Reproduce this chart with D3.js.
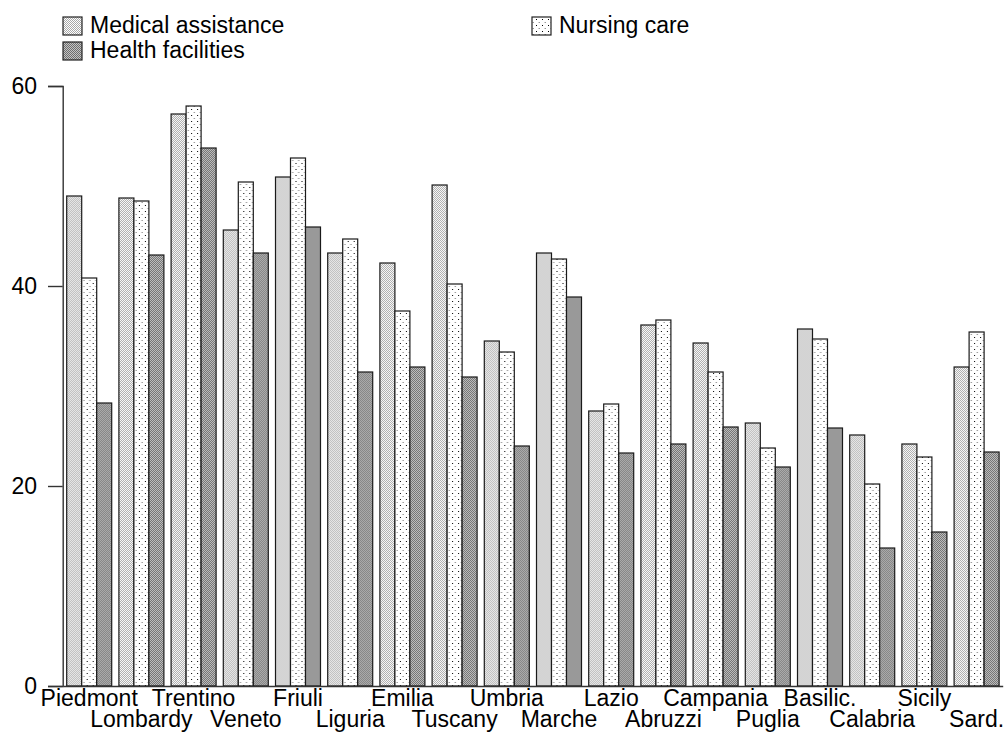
<!DOCTYPE html>
<html>
<head>
<meta charset="utf-8">
<script src="https://cdn.jsdelivr.net/npm/d3@7"></script>
<style>
  html, body { margin: 0; padding: 0; background: #fff; }
  svg { display: block; }
  text { font-family: "Liberation Sans", Arial, Helvetica, sans-serif; fill: #000; }
</style>
</head>
<body>
<svg id="chart" width="1006" height="735"></svg>
<script>
const regions = ["Piedmont","Lombardy","Trentino","Veneto","Friuli","Liguria","Emilia","Tuscany","Umbria","Marche","Lazio","Abruzzi","Campania","Puglia","Basilic.","Calabria","Sicily","Sard."];
const seriesNames = ["Medical assistance","Nursing care","Health facilities"];
const medical  = [49.0, 48.8, 57.2, 45.6, 50.9, 43.3, 42.3, 50.1, 34.5, 43.3, 27.5, 36.1, 34.3, 26.3, 35.7, 25.1, 24.2, 31.9];
const nursing  = [40.8, 48.5, 58.0, 50.4, 52.8, 44.7, 37.5, 40.2, 33.4, 42.7, 28.2, 36.6, 31.4, 23.8, 34.7, 20.2, 22.9, 35.4];
const health   = [28.3, 43.1, 53.8, 43.3, 45.9, 31.4, 31.9, 30.9, 24.0, 38.9, 23.3, 24.2, 25.9, 21.9, 25.8, 13.8, 15.4, 23.4];
const yTicks = [0, 20, 40, 60];

const seriesValues = [medical, nursing, health];
const patternIds = ["pMed", "pNurse", "pHealth"];
const FONT = 23;

const svg = d3.select("#chart");
svg.append("rect").attr("width", 1006).attr("height", 735).attr("fill", "#fff");

// patterns
const defs = svg.append("defs");
function makePattern(id, size, bg, dots) {
  const p = defs.append("pattern").attr("id", id).attr("patternUnits", "userSpaceOnUse")
    .attr("width", size).attr("height", size);
  p.append("rect").attr("width", size).attr("height", size).attr("fill", bg).attr("shape-rendering", "crispEdges");
  dots.forEach(d => p.append("rect").attr("x", d[0]).attr("y", d[1]).attr("width", d[2] || 1).attr("height", 1)
    .attr("fill", d[3]).attr("shape-rendering", "crispEdges"));
}
makePattern("pMed", 2, "#ffffff", [[0,0,1,"#a8a8a8"],[1,1,1,"#a8a8a8"]]);
makePattern("pNurse", 6, "#ffffff", [[2,1,1,"#000000"],[5,4,1,"#9a9a9a"],[4,4,1,"#d0d0d0"]]);
makePattern("pHealth", 2, "#c4c4c4", [[0,0,1,"#6e6e6e"],[1,1,1,"#6e6e6e"]]);

const y = d3.scaleLinear().domain([0, 60]).range([686, 86]);
const x0 = d3.scaleBand().domain(regions).range([63.1, 63.1 + 18 * 52.2]).paddingInner(0.138).paddingOuter(0.069);
const x1 = d3.scaleBand().domain(seriesNames).range([0, x0.bandwidth()]);

// bars
const groups = svg.append("g").selectAll("g").data(regions).join("g")
  .attr("transform", d => `translate(${x0(d)},0)`);
groups.selectAll("rect")
  .data((d, i) => seriesNames.map((s, k) => ({ s, k, v: seriesValues[k][i] })))
  .join("rect")
  .attr("x", d => x1(d.s))
  .attr("y", d => y(d.v))
  .attr("width", x1.bandwidth())
  .attr("height", d => y(0) - y(d.v))
  .attr("fill", d => `url(#${patternIds[d.k]})`)
  .attr("stroke", "#1a1a1a")
  .attr("stroke-width", 1.2);

// y axis
const yAxis = svg.append("g").attr("transform", "translate(62.7,0)")
  .call(d3.axisLeft(y).tickValues(yTicks).tickSize(14.7).tickPadding(11).tickFormat(d3.format("d")));
yAxis.select(".domain").attr("stroke", "#333").attr("stroke-width", 1.4);
yAxis.selectAll(".tick line").attr("stroke", "#333").attr("stroke-width", 1.4);
yAxis.selectAll("text").attr("font-size", FONT).attr("font-family", "'Liberation Sans', Arial, sans-serif").attr("fill", "#000");

// x axis
const xAxis = svg.append("g").attr("transform", `translate(0,${y(0)})`)
  .call(d3.axisBottom(x0).tickSize(0).tickPadding(0));
xAxis.select(".domain").attr("stroke", "#333").attr("stroke-width", 1.4);
xAxis.selectAll("text")
  .attr("font-size", FONT).attr("font-family", "'Liberation Sans', Arial, sans-serif").attr("fill", "#000")
  .attr("dy", 0)
  .attr("y", (d, i) => i % 2 === 0 ? 20 : 41);

// legend
const legendPos = [[63, 17], [532, 17], [63, 42]];
const legend = svg.append("g");
seriesNames.forEach((s, k) => {
  const [lx, ly] = legendPos[k];
  legend.append("rect").attr("x", lx).attr("y", ly).attr("width", 19).attr("height", 18)
    .attr("fill", `url(#${patternIds[k]})`).attr("stroke", "#222").attr("stroke-width", 1.2);
  legend.append("text").attr("x", lx + 27).attr("y", ly + 16).attr("font-size", FONT).text(s);
});
</script>
</body>
</html>
